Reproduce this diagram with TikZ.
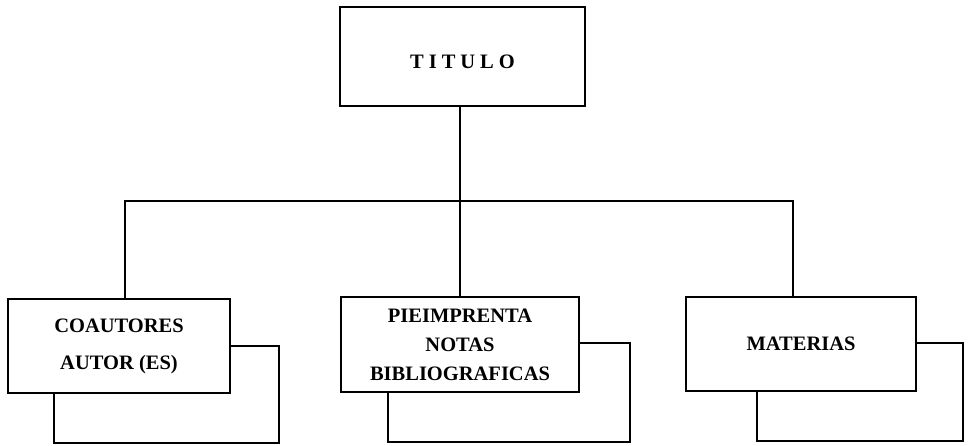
\documentclass[tikz,border=0pt]{standalone}
\usepackage{fontspec}
\setmainfont{Liberation Serif}
\usetikzlibrary{positioning}

\tikzset{
  ficha/.style={draw, line width=2.7pt, fill=white, align=center, inner sep=0pt,
                font=\fontsize{20.5}{29}\selectfont\bfseries},
  tras/.style={draw, line width=2.7pt, inner sep=0pt},
  linea/.style={line width=2.7pt}
}

\begin{document}
\begin{tikzpicture}[x=1pt, y=-1pt]
  \useasboundingbox (0,0) rectangle (970,446);

  % tarjetas de atras
  \node[tras, minimum width=225pt, minimum height=97pt] (coautB) at (166.5,394.5) {};
  \node[tras, minimum width=242pt, minimum height=99pt] (notasB) at (509,392.5) {};
  \node[tras, minimum width=206pt, minimum height=98pt] (matB) at (860,392) {};

  % tarjetas de delante
  \node[ficha, minimum width=245pt, minimum height=99pt, text height=24pt] (titulo) at (462.5,56.5)
       {T\hspace{5pt}I\hspace{5pt}T\hspace{5pt}U\hspace{5pt}L\hspace{5pt}O};
  \node[ficha, minimum width=222pt, minimum height=94pt] (coaut) at (119,346)
       {COAUTORES\\[8pt]AUTOR (ES)};
  \node[ficha, minimum width=238pt, minimum height=95pt] (notas) at (460,344.5)
       {PIEIMPRENTA\\NOTAS\\BIBLIOGRAFICAS};
  \node[ficha, minimum width=230pt, minimum height=94pt] (mat) at (801,344)
       {MATERIAS};

  \coordinate (bus) at (458,201);

  \draw[linea] (titulo.south -| notas.north) -- (notas.north);
  \draw[linea] ([xshift=6pt]coaut.north) |- (bus) -| ([xshift=-8pt]mat.north);
\end{tikzpicture}
\end{document}
